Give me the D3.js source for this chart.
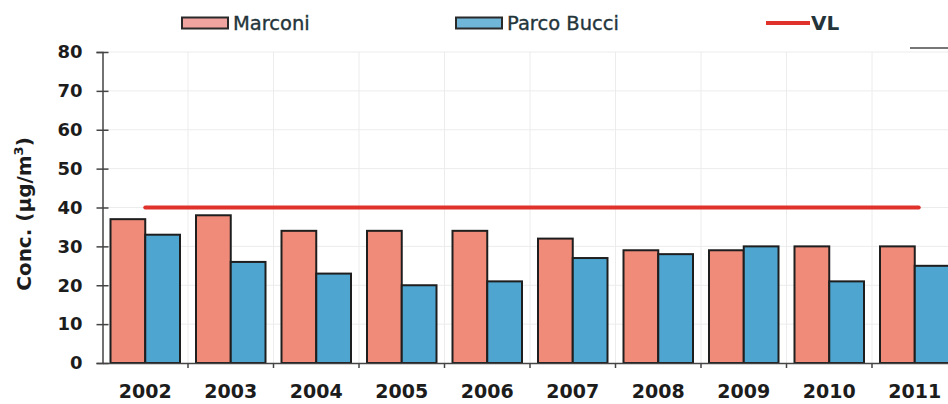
<!DOCTYPE html>
<html>
<head>
<meta charset="utf-8">
<script src="https://cdn.jsdelivr.net/npm/d3@7"></script>
<style>
  html, body { margin: 0; padding: 0; background: #fff; }
  svg { display: block; }
</style>
</head>
<body>
<svg id="chart" width="948" height="404"></svg>
<script>
// Annual mean concentrations by monitoring station
const years = ["2002","2003","2004","2005","2006","2007","2008","2009","2010","2011"];
const marconi = [37, 38, 34, 34, 34, 32, 29, 29, 30, 30];
const parcoBucci = [33, 26, 23, 20, 21, 27, 28, 30, 21, 25];
const limitValue = 40;
const seriesNames = ["Marconi", "Parco Bucci"];
const yTicks = [0, 10, 20, 30, 40, 50, 60, 70, 80];

const svg = d3.select("#chart");
const plotLeft = 102.5, bandW = 85.5;
const plotTop = 52, plotBottom = 363;

const x0 = d3.scaleBand().domain(years).range([plotLeft, plotLeft + bandW * years.length]).padding(0);
const x1 = d3.scaleBand().domain(seriesNames).range([8, bandW - 8]).padding(0);
const y = d3.scaleLinear().domain([0, 80]).range([plotBottom, plotTop]);

const colors = { "Marconi": "#ef8b78", "Parco Bucci": "#4ea5cf" };
const legendColors = { "Marconi": "#f1a3a0", "Parco Bucci": "#6fb6d8" };

// Grid
const grid = svg.append("g");
grid.selectAll("line.h").data(yTicks.slice(1)).join("line")
  .attr("x1", plotLeft).attr("x2", 948)
  .attr("y1", d => y(d)).attr("y2", d => y(d))
  .attr("stroke", "#ececec").attr("stroke-width", 1);
grid.selectAll("line.v").data(years.slice(1)).join("line")
  .attr("x1", d => x0(d)).attr("x2", d => x0(d))
  .attr("y1", plotTop).attr("y2", plotBottom)
  .attr("stroke", "#ececec").attr("stroke-width", 1);

// Bars
const rows = years.map((yr, i) => ({ year: yr, values: [
  { key: "Marconi", value: marconi[i] },
  { key: "Parco Bucci", value: parcoBucci[i] }
]}));

svg.append("g").selectAll("g").data(rows).join("g")
  .attr("transform", d => `translate(${x0(d.year)},0)`)
  .selectAll("rect").data(d => d.values).join("rect")
  .attr("x", d => x1(d.key))
  .attr("y", d => y(d.value))
  .attr("width", x1.bandwidth())
  .attr("height", d => y(0) - y(d.value))
  .attr("fill", d => colors[d.key])
  .attr("stroke", "#1e1e1e")
  .attr("stroke-width", 2);

// Limit value line
svg.append("line")
  .attr("x1", x0(years[0]) + bandW / 2)
  .attr("x2", x0(years[years.length - 1]) + bandW / 2 + 4)
  .attr("y1", y(limitValue)).attr("y2", y(limitValue))
  .attr("stroke", "#e0312b").attr("stroke-width", 4)
  .attr("stroke-linecap", "round");

// Y axis
const yAxis = svg.append("g").attr("transform", `translate(${plotLeft},0)`)
  .call(d3.axisLeft(y).tickValues(yTicks).tickSize(6).tickPadding(14));
yAxis.select(".domain").attr("stroke", "#444").attr("stroke-width", 1.5);
yAxis.selectAll(".tick line").attr("x2", 6).attr("x1", -6)
  .attr("stroke", "#444").attr("stroke-width", 1.5);
yAxis.selectAll(".tick text")
  .attr("font-family", "'DejaVu Sans', Verdana, sans-serif")
  .attr("font-weight", "bold").attr("font-size", 18).attr("fill", "#1c1c1c");

// X axis
const xAxis = svg.append("g").attr("transform", `translate(0,${plotBottom})`)
  .call(d3.axisBottom(x0).tickSize(0).tickPadding(0));
xAxis.select(".domain").attr("stroke", "#444").attr("stroke-width", 1.5);
xAxis.selectAll(".tick text")
  .attr("y", 35).attr("dy", 0)
  .attr("font-family", "'DejaVu Sans', Verdana, sans-serif")
  .attr("font-weight", "bold").attr("font-size", 19).attr("fill", "#1c1c1c");
svg.append("g").selectAll("line").data(years.slice(1)).join("line")
  .attr("x1", d => x0(d)).attr("x2", d => x0(d))
  .attr("y1", plotBottom).attr("y2", plotBottom + 5)
  .attr("stroke", "#444").attr("stroke-width", 1.5);

// Y title
svg.append("text")
  .attr("transform", `translate(31,214) rotate(-90)`)
  .attr("text-anchor", "middle")
  .attr("font-family", "'DejaVu Sans', Verdana, sans-serif")
  .attr("font-weight", "bold").attr("font-size", 20).attr("fill", "#1c1c1c")
  .html('Conc. (µg/m<tspan dy="-8" font-size="13">3</tspan><tspan dy="8">)</tspan>');

// Legend
const legend = svg.append("g");
const legendItems = [
  { key: "Marconi", type: "rect", x: 182 },
  { key: "Parco Bucci", type: "rect", x: 456 },
  { key: "VL", type: "line", x: 766 }
];
legendItems.forEach(it => {
  if (it.type === "rect") {
    legend.append("rect").attr("x", it.x).attr("y", 17.5).attr("width", 46).attr("height", 11)
      .attr("fill", legendColors[it.key]).attr("stroke", "#2a2a2a").attr("stroke-width", 2);
  } else {
    legend.append("line").attr("x1", it.x).attr("x2", it.x + 44)
      .attr("y1", 23).attr("y2", 23)
      .attr("stroke", "#e0312b").attr("stroke-width", 4);
  }
  legend.append("text").attr("x", it.x + (it.type === "rect" ? 51 : 45)).attr("y", 29.5)
    .attr("font-family", "'DejaVu Sans', Verdana, sans-serif")
    .attr("font-size", it.type === "line" ? 20 : 19.5).attr("fill", "#23343a")
    .attr("font-weight", it.type === "line" ? "bold" : "normal")
    .attr("stroke", "#23343a").attr("stroke-width", it.type === "line" ? 0 : 0.35)
    .text(it.key);
});

// Frame edge at top right
svg.append("line").attr("x1", 910).attr("x2", 948).attr("y1", 48).attr("y2", 48)
  .attr("stroke", "#777").attr("stroke-width", 2);
</script>
</body>
</html>
